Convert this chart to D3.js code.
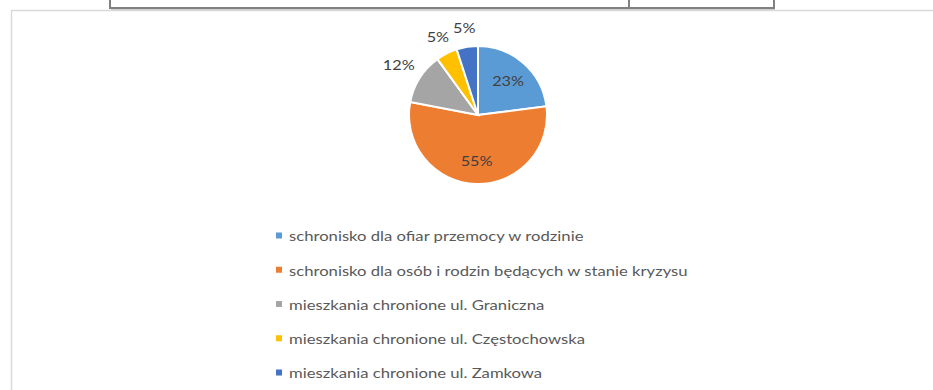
<!DOCTYPE html>
<html>
<head>
<meta charset="utf-8">
<script src="https://cdn.jsdelivr.net/npm/d3@7"></script>
<style>
  html, body { margin: 0; padding: 0; background: #fff; }
  svg { display: block; }
</style>
</head>
<body>
<svg id="chart" width="933" height="390"></svg>
<script>
// Shares of residents by facility
const categories = [
  "schronisko dla ofiar przemocy w rodzinie",
  "schronisko dla osób i rodzin będących w stanie kryzysu",
  "mieszkania chronione ul. Graniczna",
  "mieszkania chronione ul. Częstochowska",
  "mieszkania chronione ul. Zamkowa"
];
const values = [23, 55, 12, 5, 5];
const colors = ["#5B9BD5", "#ED7D31", "#A5A5A5", "#FFC000", "#4472C4"];

const svg = d3.select("#chart");
const W = 933, H = 390;
const font = "Lato, 'Open Sans', sans-serif";

// bottom edge of the table above the chart
const tbl = svg.append("g").attr("stroke", "#808080").attr("stroke-width", 2).attr("fill", "none");
tbl.append("path").attr("d", "M110,0 V8 H774 V0");
tbl.append("line").attr("x1", 629).attr("x2", 629).attr("y1", 0).attr("y2", 8);
svg.append("line").attr("x1", 111).attr("x2", 775).attr("y1", 9.5).attr("y2", 9.5)
  .attr("stroke", "#c8c8c8").attr("stroke-width", 1);

// chart area frame
svg.append("path").attr("d", `M11.5,${H} V10.5 H${W}`)
  .attr("fill", "none").attr("stroke", "#d9d9d9").attr("stroke-width", 1.5);

// pie
const cx = 478, cy = 115, r = 69;
const pie = d3.pie().sort(null).value(d => d.v);
const arcs = pie(values.map((v, i) => ({ v, i })));
const arc = d3.arc().innerRadius(0).outerRadius(r);
const g = svg.append("g").attr("transform", `translate(${cx},${cy})`);
g.selectAll("path.slice").data(arcs).join("path")
  .attr("class", "slice")
  .attr("d", arc)
  .attr("fill", d => colors[d.data.i])
  .attr("stroke", "#fff").attr("stroke-width", 2);

// value labels: inside for the large slices, outside for the small ones
const labelPos = d => {
  const big = d.data.v >= 20;
  const rr = big ? r * 0.66 : (d.data.v >= 10 ? r * 1.36 : r * 1.28);
  return d3.arc().innerRadius(rr).outerRadius(rr).centroid(d);
};
g.selectAll("text.val").data(arcs).join("text")
  .attr("class", "val")
  .attr("transform", d => {
    const p = labelPos(d);
    return `translate(${p[0]},${p[1]}) scale(1.25,1)`;
  })
  .attr("text-anchor", "middle")
  .attr("dominant-baseline", "central")
  .attr("font-family", font).attr("font-size", 13)
  .attr("fill", "#404040")
  .text(d => d.data.v + "%");

// legend
const legY = d3.scaleLinear().domain([0, categories.length - 1]).range([236, 373]);
const leg = svg.append("g");
const rows = leg.selectAll("g").data(categories).join("g")
  .attr("transform", (d, i) => `translate(276,${legY(i)})`);
rows.append("rect").attr("x", 0).attr("y", -3.5).attr("width", 6).attr("height", 6)
  .attr("fill", (d, i) => colors[i]);
const txt = rows.append("text")
  .attr("x", 0).attr("y", 0)
  .attr("dominant-baseline", "central")
  .attr("font-family", font).attr("font-size", 14)
  .attr("fill", "#595959")
  .text(d => d);
// widen the legend text to the target span of the longest entry
const longest = txt.nodes()[1].getComputedTextLength();
const sx = 399 / longest;
txt.attr("transform", `translate(13,0) scale(${sx},1)`);
</script>
</body>
</html>
